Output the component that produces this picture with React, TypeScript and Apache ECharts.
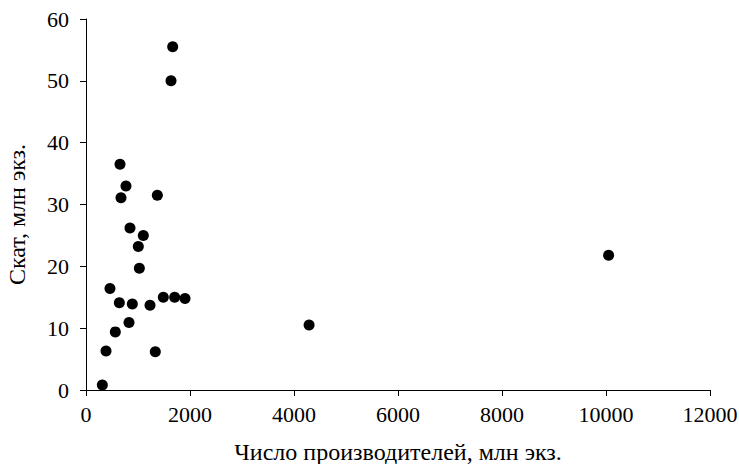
import React, { useEffect, useRef } from "react";
import * as echarts from "echarts";

const producers: number[] = [654, 769, 673, 1372, 846, 1102, 1006, 1026, 461, 641, 891, 1231, 1487, 1705, 1904, 827, 564, 385, 1333, 314, 1667, 1635, 4290, 10050];
const catchValues: number[] = [36.5, 33.0, 31.1, 31.5, 26.2, 25.0, 23.2, 19.7, 16.4, 14.1, 13.9, 13.7, 15.0, 15.0, 14.8, 10.9, 9.4, 6.3, 6.2, 0.8, 55.5, 50.0, 10.5, 21.8];

const xName = "Число производителей, млн экз.";
const yName = "Скат, млн экз.";

export default function App() {
  const ref = useRef<HTMLDivElement>(null);
  useEffect(() => {
    if (!ref.current) return;
    const chart = echarts.init(ref.current, undefined, { renderer: "svg" });
    const font = "'Liberation Serif', 'Times New Roman', serif";
    chart.setOption({
      animation: false,
      textStyle: { fontFamily: font },
      grid: { left: 86, right: 29, top: 19, bottom: 74, containLabel: false, outerBoundsMode: "none" },
      xAxis: {
        type: "value",
        min: 0,
        max: 12000,
        interval: 2000,
        name: xName,
        nameLocation: "middle",
        nameGap: 50,
        nameTextStyle: { fontFamily: font, fontSize: 24, color: "#000" },
        axisLine: { show: true, lineStyle: { color: "#000", width: 1 } },
        axisTick: { show: true, inside: false, length: 6, lineStyle: { color: "#000" } },
        axisLabel: { fontFamily: font, fontSize: 22, color: "#000", margin: 13, formatter: (v: number) => String(v) },
        splitLine: { show: false },
      },
      yAxis: {
        type: "value",
        min: 0,
        max: 60,
        interval: 10,
        name: yName,
        nameLocation: "middle",
        nameGap: 57,
        nameRotate: 90,
        nameTextStyle: { fontFamily: font, fontSize: 24, color: "#000", padding: [0, 20, 0, 0] },
        axisLine: { show: true, lineStyle: { color: "#000", width: 1 } },
        axisTick: { show: true, inside: false, length: 6, lineStyle: { color: "#000" } },
        axisLabel: { fontFamily: font, fontSize: 22, color: "#000", margin: 17 },
        splitLine: { show: false },
      },
      series: [
        {
          type: "scatter",
          data: producers.map((x, i) => [x, catchValues[i]]),
          symbol: "circle",
          symbolSize: 11,
          itemStyle: { color: "#000", opacity: 1 },
        },
      ],
    });
    return () => chart.dispose();
  }, []);
  return <div ref={ref} style={{ width: 739, height: 464, position: "absolute", left: 0, top: 0 }} />;
}
